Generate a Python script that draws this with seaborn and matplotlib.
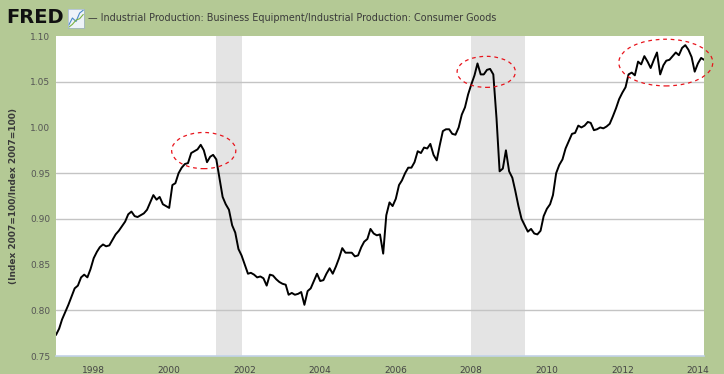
import pandas as pd
import matplotlib.pyplot as plt
import matplotlib.dates as mdates
from matplotlib.patches import Ellipse
import seaborn as sns

# Monthly ratio, Jan 1997 - Mar 2014
start_month = "1997-01-01"
ratio = [
    0.773, 0.780, 0.790, 0.798, 0.806, 0.815, 0.824, 0.827, 0.836, 0.839, 0.836, 0.845,
    0.857, 0.864, 0.869, 0.872, 0.870, 0.871, 0.877, 0.883, 0.887, 0.892, 0.897, 0.905,
    0.908, 0.903, 0.902, 0.904, 0.906, 0.910, 0.918, 0.926, 0.921, 0.924, 0.916, 0.914,
    0.912, 0.937, 0.939, 0.950, 0.956, 0.960, 0.961, 0.972, 0.974, 0.976, 0.981, 0.975,
    0.962, 0.968, 0.970, 0.965, 0.945, 0.924, 0.916, 0.910, 0.893, 0.885, 0.867, 0.860,
    0.850, 0.840, 0.841, 0.839, 0.836, 0.837, 0.835, 0.827, 0.839, 0.838, 0.834, 0.831,
    0.829, 0.828, 0.817, 0.819, 0.817, 0.818, 0.820, 0.806, 0.821, 0.824, 0.832, 0.840,
    0.832, 0.833, 0.840, 0.846, 0.840, 0.848, 0.857, 0.868, 0.863, 0.863, 0.863, 0.859,
    0.860, 0.869, 0.875, 0.878, 0.889, 0.884, 0.882, 0.883, 0.862, 0.904, 0.918, 0.914,
    0.922, 0.937, 0.942, 0.950, 0.956, 0.956, 0.962, 0.974, 0.972, 0.978, 0.977, 0.982,
    0.970, 0.964, 0.980, 0.996, 0.998, 0.998, 0.993, 0.992, 1.000, 1.014, 1.022, 1.036,
    1.047, 1.057, 1.070, 1.058, 1.058, 1.063, 1.064, 1.058, 1.010, 0.952, 0.955, 0.975,
    0.952, 0.945, 0.931, 0.914, 0.900, 0.893, 0.886, 0.889, 0.884, 0.883, 0.887, 0.903,
    0.911, 0.916, 0.926, 0.950, 0.959, 0.965, 0.977, 0.985, 0.993, 0.994, 1.002, 1.000,
    1.002, 1.006, 1.005, 0.997, 0.998, 1.000, 0.999, 1.001, 1.004, 1.012, 1.021, 1.031,
    1.038, 1.044, 1.058, 1.060, 1.057, 1.072, 1.069, 1.078, 1.072, 1.065, 1.074, 1.082,
    1.058, 1.068, 1.073, 1.074, 1.078, 1.082, 1.079, 1.087, 1.090, 1.085, 1.077, 1.061,
    1.070, 1.076, 1.074,
]
dates = pd.date_range(start_month, periods=len(ratio), freq="MS")
df = pd.DataFrame({"date": dates, "ratio": ratio})

recessions = [("2001-04-01", "2001-12-01"), ("2008-01-01", "2009-06-01")]
y_ticks = [0.75, 0.80, 0.85, 0.90, 0.95, 1.00, 1.05, 1.10]
grid_levels = [0.80, 0.90, 0.95, 1.05]

series_title = "Industrial Production: Business Equipment/Industrial Production: Consumer Goods"
y_label = "(Index 2007=100/Index 2007=100)"

sns.set_style("white")
plt.rcParams["font.family"] = ["DejaVu Sans"]

green = "#b4c995"
fig = plt.figure(figsize=(7.24, 3.74), dpi=100, facecolor=green)
ax = fig.add_axes([0.0773, 0.0481, 0.8951, 0.8556])
ax.set_facecolor("white")

for start, end in recessions:
    ax.axvspan(pd.Timestamp(start), pd.Timestamp(end), color="#e4e4e4", lw=0, zorder=0)
for lvl in grid_levels:
    ax.axhline(lvl, color="#c4c4c4", lw=1.0, zorder=0.5)

sns.lineplot(data=df, x="date", y="ratio", color="black", lw=1.4, ax=ax, zorder=3)

ax.set_xlim(dates[0], dates[-1])
ax.set_ylim(0.75, 1.10)
ax.set_yticks(y_ticks)
ax.set_yticklabels([f"{v:.2f}" for v in y_ticks])
ax.xaxis.set_major_locator(mdates.YearLocator(2))
ax.xaxis.set_major_formatter(mdates.DateFormatter("%Y"))
ax.tick_params(axis="x", length=5, width=1, color="#c2d2e8", labelsize=6.5,
               labelcolor="#444444", pad=2)
ax.tick_params(axis="y", length=0, labelsize=6.5, labelcolor="#555555", pad=4)
ax.set_xlabel("")
ax.set_ylabel(y_label, fontsize=6.5, color="#3a3a3a", fontweight="bold", labelpad=9)
for side in ["top", "right", "left"]:
    ax.spines[side].set_visible(False)
ax.spines["bottom"].set_color("#c2d2e8")
ax.spines["bottom"].set_linewidth(1.2)

# red dashed ellipses around the peaks
ellipses = [(0.228, 0.642, 0.099, 0.113), (0.664, 0.888, 0.090, 0.097),
            (0.941, 0.917, 0.145, 0.146)]
for cx, cy, w, h in ellipses:
    ax.add_patch(Ellipse((cx, cy), w, h, transform=ax.transAxes, fill=False,
                         ec="#e8141c", lw=0.9, ls=(0, (3, 3)), clip_on=False, zorder=4))

# FRED header
fig.text(0.008, 0.953, "FRED", fontsize=14, fontweight="bold", color="#111111",
         va="center", ha="left")
icon = fig.add_axes([0.094, 0.925, 0.022, 0.05])
icon.set_facecolor("#eef3f8")
icon.plot([0, 1, 2, 3, 4], [0.5, 1.5, 1.0, 2.2, 2.6], color="#4a8ac8", lw=0.8)
icon.plot([0, 1, 2, 3, 4], [0.2, 0.6, 1.2, 1.4, 2.0], color="#7cb342", lw=0.8)
icon.set_xticks([])
icon.set_yticks([])
for s in icon.spines.values():
    s.set_color("#9fb4c8")
    s.set_linewidth(0.5)
fig.text(0.122, 0.953, "\u2014 " + series_title, fontsize=6.9, color="#3a3a3a",
         va="center", ha="left")

plt.savefig("out.png", dpi=100, facecolor=green)
